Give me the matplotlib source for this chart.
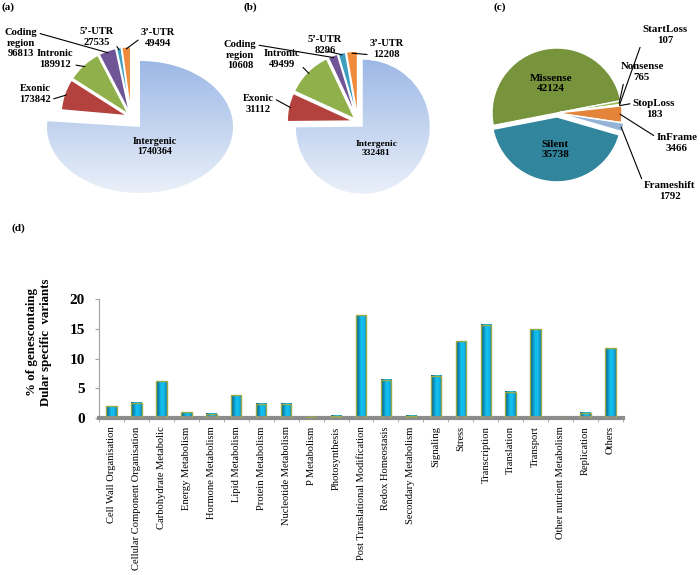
import matplotlib
matplotlib.use("Agg")
import matplotlib.pyplot as plt
import numpy as np
from matplotlib.colors import LinearSegmentedColormap

plt.rcParams['font.family'] = ['Liberation Serif', 'DejaVu Serif']

# ---- data ----
region_labels = ['Intergenic', 'Exonic', 'Intronic', 'Coding\nregion', '5’-UTR', '3’-UTR']
a_values = [1740364, 173842, 189912, 96813, 27535, 49494]
b_values = [332481, 31112, 49499, 10608, 8296, 12208]
region_colors = ['#b3c7ea', '#b3423f', '#8fb04a', '#6f5596', '#3d9fc0', '#ef8b3a']

effect_labels = ['Missense', 'Nonsense', 'StartLoss', 'StopLoss', 'InFrame', 'Frameshift', 'Silent']
c_values = [42124, 765, 107, 183, 3466, 1792, 35738]
effect_colors = ['#77933c', '#9bbb59', '#4f6228', '#4bacc6', '#e3843a', '#95b3d7', '#31859c']

categories = ['Cell Wall Organisation', 'Cellular Component Organisation', 'Carbohydrate Metabolic',
              'Energy Metabolism', 'Hormone Metabolism', 'Lipid Metabolism', 'Protein Metabolism',
              'Nucleotide Metabolism', 'P Metabolism', 'Photosynthesis',
              'Post Translational Modification', 'Redox Homeostasis', 'Secondary Metabolism',
              'Signaling', 'Stress', 'Transcription', 'Translation', 'Transport',
              'Other nutrient Metabolism', 'Replication', 'Others']
percent = [2.0, 2.6, 6.2, 1.0, 0.7, 3.8, 2.4, 2.4, 0.1, 0.4,
           17.3, 6.4, 0.4, 7.1, 12.9, 15.7, 4.4, 14.9, 0.05, 0.9, 11.7]

W, H = 700, 575
fig = plt.figure(figsize=(7, 5.75), dpi=100)


def place(ax, cx, cy, rx, ry, box):
    # put a pie of radius rx/ry pixels centred at (cx, cy) inside box (top-based pixels)
    x0, y0, x1, y1 = box
    ax.set_position([x0 / W, 1 - y1 / H, (x1 - x0) / W, (y1 - y0) / H])
    ax.set_xlim((x0 - cx) / rx, (x1 - cx) / rx)
    ax.set_ylim((cy - y1) / ry, (cy - y0) / ry)
    ax.set_aspect('auto')
    ax.axis('off')


def edge(w, frac=0.97):
    t = np.deg2rad((w.theta1 + w.theta2) / 2)
    return (w.center[0] + frac * w.r * np.cos(t), w.center[1] + frac * w.r * np.sin(t))


def label(ax, w, text, x, y, size=7.6, rel=(0.5, 0.5), frac=0.97):
    ax.annotate(text, xy=edge(w, frac), xycoords='data', xytext=(x, H - y),
                textcoords='figure pixels', ha='center', va='center', fontsize=size,
                fontweight='bold', linespacing=1.15, annotation_clip=False,
                arrowprops=dict(arrowstyle='-', color='black', lw=0.8, relpos=rel,
                                shrinkA=0, shrinkB=0))


def gradient_fill(ax, w, top, bottom):
    cmap = LinearSegmentedColormap.from_list('g', [bottom, top])
    grad = np.linspace(0, 1, 256).reshape(-1, 1)
    cx, cy = w.center
    im = ax.imshow(grad, cmap=cmap, origin='lower', aspect='auto',
                   extent=(cx - w.r, cx + w.r, cy - w.r, cy + w.r), zorder=w.get_zorder() + 0.1)
    im.set_clip_path(w)


# ---- (a) ----  big slice is drawn wider than the small ones, as in the source figure
ax_a1 = fig.add_axes([0, 0, 0.1, 0.1])
wa1, _ = ax_a1.pie(a_values, colors=region_colors, startangle=90, counterclock=False,
                   wedgeprops=dict(edgecolor='white', linewidth=1.2))
for w in wa1[1:]:
    w.set_visible(False)
gradient_fill(ax_a1, wa1[0], '#9db8e6', '#eaf0f9')
place(ax_a1, 140, 127, 93, 66, (0, 15, 240, 215))
ax_a1.text(0.16, -0.29, 'Intergenic\n1740364', ha='center',
           va='center', fontsize=7.2, fontweight='bold', linespacing=1.15)

ax_a2 = fig.add_axes([0, 0, 0.1, 0.1])
wa, _ = ax_a2.pie(a_values, colors=region_colors, startangle=90, counterclock=False,
                  explode=[0, 0.05, 0.05, 0.05, 0.05, 0.05],
                  wedgeprops=dict(edgecolor='white', linewidth=1.2))
wa[0].set_visible(False)
place(ax_a2, 131, 117, 67, 67, (0, 15, 240, 215))
label(ax_a2, wa[1], 'Exonic\n173842', 35, 94, rel=(1, 0.2))
label(ax_a2, wa[2], 'Intronic\n189912', 55, 59, rel=(1, 0.2))
label(ax_a2, wa[3], 'Coding\nregion\n96813', 21, 43, rel=(1, 0.85))
label(ax_a2, wa[4], '5’-UTR\n27535', 97, 37, rel=(1, 0.2))
label(ax_a2, wa[5], '3’-UTR\n49494', 158, 38, rel=(0, 0.5))

# ---- (b) ----
ax_b = fig.add_axes([0, 0, 0.1, 0.1])
wb, _ = ax_b.pie(b_values, colors=region_colors, startangle=90, counterclock=False,
                 explode=[0.1, 0.06, 0.06, 0.06, 0.06, 0.06],
                 wedgeprops=dict(edgecolor='white', linewidth=1.2))
gradient_fill(ax_b, wb[0], '#9db8e6', '#eaf0f9')
place(ax_b, 358, 122, 67, 67, (230, 15, 460, 215))
ax_b.text(*(np.array(edge(wb[0], 0.0)) + [0.2, -0.33]), 'Intergenic\n332481', ha='center',
          va='center', fontsize=6.8, fontweight='bold', linespacing=1.15)
label(ax_b, wb[1], 'Exonic\n31112', 258, 104, rel=(1, 0.8))
label(ax_b, wb[2], 'Intronic\n49499', 282, 59, rel=(1, 0.2))
label(ax_b, wb[3], 'Coding\nregion\n10608', 240, 55, rel=(1, 0.85))
label(ax_b, wb[4], '5’-UTR\n8296', 325, 45, rel=(0.5, 0.2))
label(ax_b, wb[5], '3’-UTR\n12208', 387, 49, rel=(0, 0.2))

# ---- (c) ----
ax_c = fig.add_axes([0, 0, 0.1, 0.1])
wc, _ = ax_c.pie(c_values, colors=effect_colors, startangle=191, counterclock=False,
                 explode=[0, 0, 0, 0, 0, 0.04, 0.06],
                 wedgeprops=dict(edgecolor='white', linewidth=1.0))
place(ax_c, 557, 113, 65, 65, (460, 15, 700, 215))
for w, name, v, f in [(wc[0], 'Missense', c_values[0], 0.46), (wc[6], 'Silent', c_values[6], 0.5)]:
    ax_c.text(*edge(w, f), f'{name}\n{v}', ha='center', va='center', fontsize=8,
              fontweight='bold', linespacing=1.15)
label(ax_c, wc[2], 'StartLoss\n107', 665, 35, size=7.8, rel=(0, 0.2))
label(ax_c, wc[1], 'Nonsense\n765', 642, 72, size=7.8, rel=(0.1, 0.2))
label(ax_c, wc[3], 'StopLoss\n183', 654, 109, size=7.8, rel=(0, 0.8))
label(ax_c, wc[4], 'InFrame\n3466', 677, 143, size=7.8, rel=(0, 0.8))
label(ax_c, wc[5], 'Frameshift\n1792', 670, 191, size=7.8, rel=(0, 0.8))

for t, x, y in [('(a)', 2, 7), ('(b)', 243, 7), ('(c)', 494, 7), ('(d)', 12, 228)]:
    fig.text(x / W, 1 - y / H, t, ha='left', va='center', fontsize=8, fontweight='bold')

# ---- (d) bar chart ----
ax = fig.add_axes([99 / W, 157 / H, 524 / W, 119 / H])
x = np.arange(len(categories))
bars = ax.bar(x, percent, width=0.42, facecolor='none', edgecolor='#9aab4a', linewidth=1.0, zorder=3)
cyl = LinearSegmentedColormap.from_list('cyl', ['#064f66', '#0a8fbf', '#14c2f2', '#12b8ea', '#0a86b4'])
grad = np.linspace(0, 1, 64).reshape(1, -1)
for r in bars:
    ax.imshow(grad, cmap=cyl, aspect='auto', zorder=2,
              extent=(r.get_x(), r.get_x() + r.get_width(), 0, r.get_height()))

ax.set_xlim(-0.5, len(categories) - 0.5)
ax.set_ylim(0, 20)
ax.set_yticks([0, 5, 10, 15, 20])
ax.set_xticks(x)
ax.set_xticklabels(categories, rotation=90, fontsize=7.6)
ax.set_xticks(np.arange(-0.5, len(categories)), minor=True)
ax.tick_params(axis='x', which='major', length=0, pad=6)
ax.tick_params(axis='x', which='minor', length=3, color='#a0a0a0', direction='out')
ax.tick_params(axis='y', length=3, color='#a0a0a0', pad=7, labelsize=11)
for t in ax.get_yticklabels():
    t.set_fontweight('bold')
for s in ['top', 'right']:
    ax.spines[s].set_visible(False)
ax.spines['left'].set_color('#a0a0a0')
ax.spines['left'].set_linewidth(0.8)
ax.spines['bottom'].set_color('#8c8c8c')
ax.spines['bottom'].set_linewidth(3)
ax.set_ylabel('% of genescontaing\nDular specific  variants', fontsize=9.3,
              fontweight='bold', linespacing=1.15)
ax.yaxis.set_label_coords(-0.09, 0.64)

fig.savefig('out.png', dpi=100)
